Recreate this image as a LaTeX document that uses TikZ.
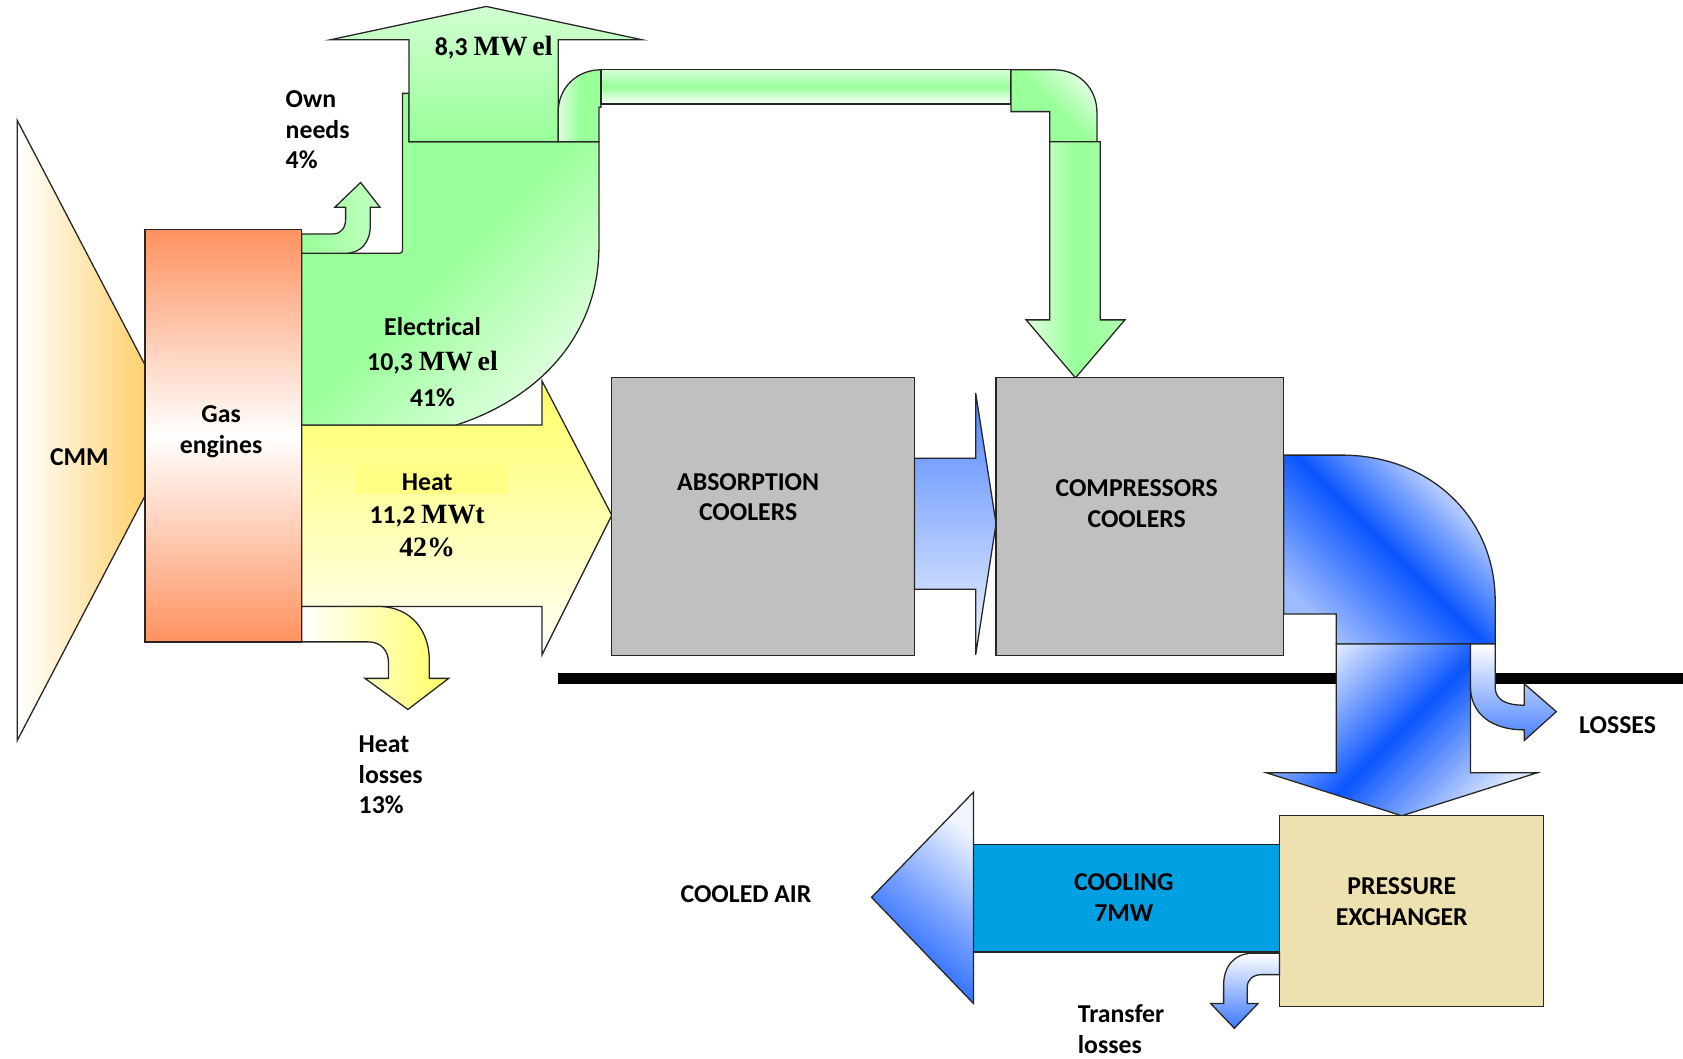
\documentclass[tikz,border=0pt]{standalone}
\usepackage{fontspec}
\setmainfont{Carlito}
\newfontfamily\tms{Liberation Serif}

\definecolor{gleaf}{RGB}{153,255,153}
\definecolor{heatyel}{RGB}{255,255,102}
\definecolor{cmmorange}{RGB}{255,196,70}
\definecolor{engorange}{RGB}{255,146,96}
\definecolor{boxgray}{RGB}{192,192,192}
\definecolor{bflow}{RGB}{10,85,255}
\definecolor{coolblue}{RGB}{0,160,226}
\definecolor{pxbeige}{RGB}{238,225,176}

\tikzset{
  flow/.style={draw=black!85, line width=1.2pt},
  box/.style={draw=black!85, line width=1.2pt, fill=boxgray},
  lbl/.style={font=\fontsize{24}{28.5}\selectfont\bfseries, align=center, inner sep=0pt},
}

\begin{document}
\begin{tikzpicture}[x=1pt,y=-1pt]
      \useasboundingbox (0,0) rectangle (1568,986);

      % ground line
      \draw [line width=10pt, color=black] (520,632) -- (1568,632);

      % CMM input
      \draw [flow, left color=white, right color=cmmorange] (16,112) -- (167,401) -- (16,690) -- cycle;

      % heat and heat losses
      \draw [flow, top color=heatyel, bottom color=white!96!heatyel] (281,396) -- (505,396) -- (505,355) -- (570,480) -- (505,610) -- (505,565) -- (281,565) -- cycle;
      \draw [flow, left color=white, right color=heatyel] (281,565) -- (352,565) .. controls (385,565) and (400,590) .. (400,615) -- (400,632) -- (418,632) -- (380,661) -- (340,632) -- (362,632) -- (362,618) .. controls (362,606) and (355,598) .. (343,598) -- (281,598) -- cycle;

      % electrical
      \draw [flow, top color=gleaf, bottom color=gleaf!30, middle color=gleaf, shading angle=45] (281,236) -- (369,236) .. controls (375,236) .. (375,230) -- (375,87) -- (381,87) -- (381,132) -- (558,132) -- (558,230) .. controls (558,310) and (505,370) .. (425,396) -- (281,396) -- cycle;
      \draw [flow, top color=gleaf!45, bottom color=gleaf] (381,132) -- (381,37) -- (308,37) -- (453,6) -- (598,37) -- (520,37) -- (520,132) -- cycle;
      \draw [flow, left color=gleaf!30, right color=gleaf, middle color=gleaf] (520,132) -- (520,105) .. controls (520,82) and (537,65) .. (560,65) -- (560,100) -- (558,100) -- (558,132) -- cycle;
      \draw [flow, top color=gleaf!40, bottom color=white, middle color=gleaf] (560,65) rectangle (942,97);
      \draw [flow, top color=gleaf!30, bottom color=gleaf, middle color=gleaf, shading angle=-45] (942,65) -- (982,65) .. controls (1005,65) and (1022,82) .. (1022,105) -- (1022,132) -- (978,132) -- (978,104) -- (942,104) -- cycle;
      \draw [flow, left color=white!70!gleaf, right color=gleaf!80, middle color=gleaf] (978,132) -- (1025,132) -- (1025,298) -- (1048,298) -- (1002,352) -- (956,298) -- (978,298) -- cycle;

      % own needs
      \draw [flow, left color=gleaf, right color=white!40!gleaf] (281,218) -- (310,218) .. controls (318,218) and (322,212) .. (322,204) -- (322,193) -- (312,193) -- (336,170) -- (354,193) -- (345,193) -- (345,210) .. controls (345,226) and (336,236) .. (322,236) -- (281,236) -- cycle;

      % plant boxes
      \node [flow, top color=engorange, bottom color=engorange, middle color=white, minimum width=146pt, minimum height=384pt, inner sep=0pt] (engines) at (208,406) {};
      \node [box, minimum width=282pt, minimum height=259pt] (absorb) at (711,481.5) {};
      \draw [flow, top color=bflow!72, bottom color=bflow!6] (852,427) -- (909,427) -- (909,366) -- (928,488) -- (909,610) -- (909,549) -- (852,549) -- cycle;
      \node [box, minimum width=268pt, minimum height=259pt] (compr) at (1062,481.5) {};

      % cooling flow
      \draw [flow, top color=bflow!12, bottom color=bflow!40, middle color=bflow, shading angle=-45] (1196,424) -- (1250,424) .. controls (1330,424) and (1393,480) .. (1393,560) -- (1393,600) -- (1245,600) -- (1245,572) -- (1196,572) -- cycle;
      \draw [flow, top color=bflow!8, bottom color=bflow!15, middle color=bflow, shading angle=45] (1245,600) -- (1370,600) -- (1370,720) -- (1432,720) -- (1306,760) -- (1180,720) -- (1245,720) -- cycle;
      \draw [flow, top color=white, bottom color=bflow!75] (1370,600) -- (1393,600) -- (1393,640) .. controls (1393,652) and (1403,657) .. (1420,657) -- (1420,637) -- (1450,663) -- (1420,690) -- (1420,680) .. controls (1390,680) and (1370,665) .. (1370,640) -- cycle;

      \node [flow, fill=pxbeige, minimum width=246pt, minimum height=178pt] (px) at (1315,849) {};
      \draw [flow, fill=coolblue] (907,787) rectangle (1192,887);
      \draw [flow, top color=bflow!6, bottom color=bflow, middle color=bflow!55, shading angle=-40] (907,738) -- (907,935) -- (812,836) -- cycle;
      \draw [flow, top color=white, bottom color=bflow!80] (1192,888) -- (1168,888) .. controls (1150,888) and (1140,900) .. (1140,918) -- (1140,935) -- (1128,935) -- (1150,958) -- (1172,935) -- (1162,935) -- (1162,920) .. controls (1162,912) and (1168,908) .. (1176,908) -- (1192,908) -- cycle;

      % labels
      \fill [color=heatyel!80] (331,433) rectangle (473,460);
      \node [lbl] (cmmlbl) at (74,426) {CMM};
      \node [lbl] (englbl) at (206,402) {Gas\\engines};
      \node [lbl, align=left, anchor=west] (ownlbl) at (266,121) {Own\\needs\\4\%};
      \node [lbl] (netlbl) at (460,44) {8,3 {\tms\bfseries\fontsize{26}{28}\selectfont MW\,el}};
      \node [lbl, font=\fontsize{24}{33}\selectfont\bfseries] (elelbl) at (403,337) {Electrical\\10,3 {\tms\bfseries\fontsize{26}{28}\selectfont MW\,el}\\41\%};
      \node [lbl, font=\fontsize{24}{31}\selectfont\bfseries] (heatlbl) at (398,480) {Heat\\11,2 {\tms\bfseries\fontsize{26}{28}\selectfont MWt}\\{\tms\bfseries\fontsize{26}{28}\selectfont 42\%}};
      \node [lbl, align=left, anchor=west] (hlosslbl) at (334,722) {Heat\\losses\\13\%};
      \node [lbl] (abslbl) at (697,463) {ABSORPTION\\COOLERS};
      \node [lbl] (cmplbl) at (1059,469) {COMPRESSORS\\COOLERS};
      \node [lbl] (losslbl) at (1507,676) {LOSSES};
      \node [lbl] (pxlbl) at (1306,840) {PRESSURE\\EXCHANGER};
      \node [lbl] (coollbl) at (1047,836) {COOLING\\7MW};
      \node [lbl] (airlbl) at (695,833) {COOLED AIR};
      \node [lbl, align=left, anchor=west] (tlosslbl) at (1004,959) {Transfer\\losses};
\end{tikzpicture}
\end{document}
